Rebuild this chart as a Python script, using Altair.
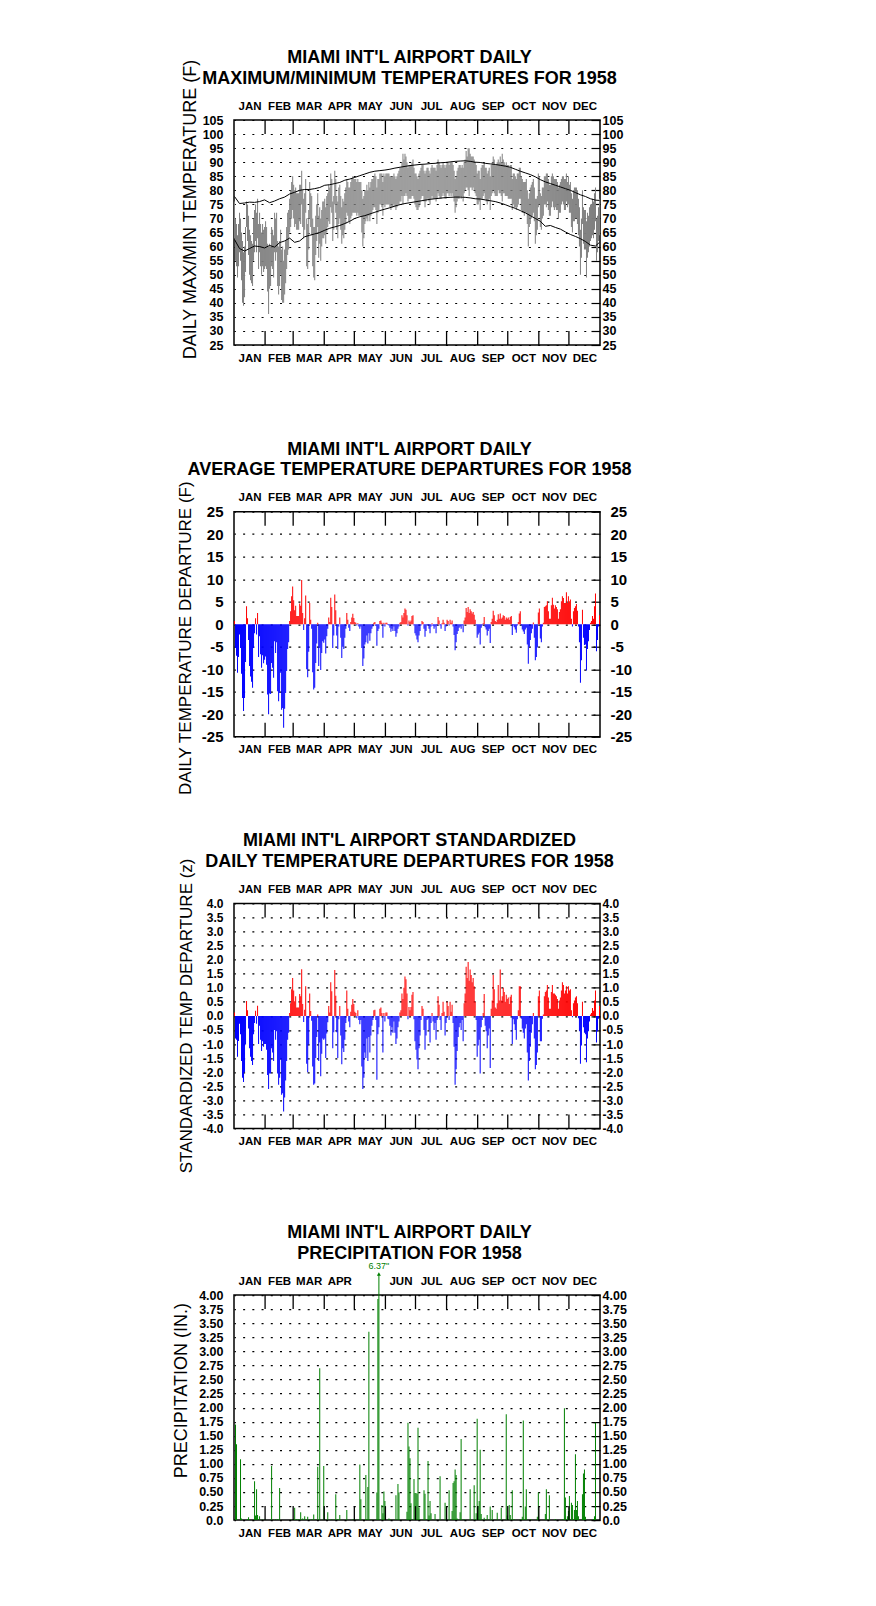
import altair as alt
import pandas as pd

FONT = "Liberation Sans"
MONTHS = ["JAN", "FEB", "MAR", "APR", "MAY", "JUN", "JUL", "AUG", "SEP", "OCT", "NOV", "DEC"]
MONTH_LEN = [31, 28, 31, 30, 31, 30, 31, 31, 30, 31, 30, 31]

TMAX = [76,70,68,64,68,72,70,65,62,58,60,67,76,75,71,66,64,62,61,70,73,75,72,77,68,72,68,65,68,66,67,
        69,67,61,60,61,60,67,66,64,72,70,72,62,60,62,66,59,60,55,59,62,67,72,73,77,80,83,85,
        82,80,81,79,79,79,82,82,87,80,77,79,84,70,68,73,83,79,78,70,67,67,71,75,79,71,74,70,73,76,76,
        77,74,78,79,82,81,86,84,76,78,87,84,78,76,81,82,78,74,77,76,79,81,84,83,81,81,83,84,85,84,
        84,84,83,84,83,83,83,80,77,78,80,80,82,80,83,81,83,84,84,85,86,85,81,84,84,86,86,86,83,86,85,
        86,86,86,86,85,85,85,85,86,85,84,85,86,87,88,88,90,93,91,93,92,90,88,89,89,89,90,91,88,86,
        86,85,84,86,87,88,89,89,87,86,87,88,88,87,86,88,89,88,88,88,87,89,91,90,89,88,89,90,89,88,89,
        90,90,89,90,90,90,89,87,84,85,87,88,89,89,88,89,88,90,91,94,92,95,95,93,92,92,92,91,90,89,86,
        87,87,84,88,89,89,90,88,88,86,87,88,85,89,90,92,91,89,89,90,91,90,92,90,93,91,90,89,90,89,
        89,88,89,89,84,86,86,85,84,86,86,88,88,85,84,83,83,83,84,80,77,79,81,82,83,84,81,77,77,78,86,
        85,79,78,81,81,85,85,86,86,84,82,82,85,86,85,84,84,84,83,81,82,83,84,85,85,84,84,86,83,85,
        82,83,79,77,80,81,81,81,80,77,74,66,70,80,74,73,73,69,72,71,74,75,75,77,76,79,81,70,71,74,77]
TMIN = [63,55,53,49,53,58,55,48,40,39,42,51,67,62,57,50,48,47,46,55,58,62,58,63,52,58,53,50,53,51,52,
        53,52,44,36,45,46,53,52,49,58,55,58,46,43,46,50,41,40,40,43,47,52,57,59,65,67,70,73,
        70,67,68,66,66,66,69,68,75,67,63,66,72,53,52,59,70,67,64,53,49,48,57,62,67,56,61,55,60,63,63,
        64,61,65,67,69,68,74,72,62,66,75,72,66,63,68,70,66,61,64,63,66,68,72,71,69,68,70,71,72,72,
        72,72,71,72,71,71,71,65,60,63,68,69,70,69,71,69,71,72,73,74,74,73,68,72,73,75,75,74,71,75,74,
        75,75,75,75,74,73,74,74,75,74,73,74,75,75,76,76,78,75,78,78,79,78,76,77,77,77,78,78,77,75,
        74,73,73,74,75,77,78,78,76,74,76,77,77,76,75,77,78,77,77,77,76,77,79,78,77,77,78,79,78,77,77,
        79,79,78,79,78,79,78,76,72,74,76,77,77,78,77,78,76,79,80,81,81,80,78,81,81,80,81,80,79,78,75,
        75,76,73,77,77,78,79,77,76,75,76,77,73,78,79,80,79,78,78,78,80,79,79,78,76,79,79,78,78,78,
        77,77,77,77,73,75,74,74,73,74,75,77,77,73,72,72,71,72,72,68,60,67,68,70,71,72,69,61,64,66,74,
        75,67,66,70,71,75,75,74,76,73,71,71,74,76,74,73,74,73,73,70,72,72,75,76,75,73,73,76,74,75,
        72,72,67,65,69,69,70,70,68,64,60,50,56,68,61,59,59,49,56,58,60,62,63,64,63,66,69,55,58,62,64]

NORM_DAYS = list(range(0, 361, 5)) + [364]
NORM_MAX = [77.8,75.3,75.5,75.8,75.7,76.0,76.6,75.6,76.2,77.0,77.6,78.7,79.3,80.0,80.3,80.3,80.6,81.0,81.8,82.0,
            82.4,82.8,83.6,84.0,84.6,85.2,85.8,86.4,86.8,87.0,87.2,87.5,87.9,88.2,88.5,88.8,89.0,89.2,89.3,89.5,
            89.6,89.8,89.9,90.1,90.3,90.4,90.5,90.3,90.0,89.9,89.6,89.4,89.2,88.9,88.6,88.2,87.5,86.8,86.2,85.6,
            84.8,83.8,83.0,82.4,81.8,81.2,80.6,80.0,79.2,78.4,77.8,77.0,76.5,76.4]
NORM_MIN = [62.5,59.3,58.4,59.3,60.2,60.0,59.5,60.4,59.8,61.4,62.0,63.0,61.5,62.0,63.5,64.0,64.5,65.0,65.8,66.5,
            67.0,67.5,68.2,69.0,70.0,70.6,71.0,71.6,72.2,72.8,73.3,73.8,74.4,74.9,75.3,75.6,75.9,76.2,76.5,76.8,
            77.0,77.2,77.4,77.5,77.6,77.6,77.5,77.3,77.0,76.9,76.6,76.3,76.0,75.5,74.9,74.2,73.6,72.8,72.0,71.0,
            70.0,69.0,67.2,67.5,66.8,66.2,65.2,64.3,63.6,62.8,61.8,60.5,60.2,61.5]

DEP = [0.7,-5.3,-7.0,-10.8,-7.3,-2.3,-5.3,-11.0,-16.4,-19.3,-16.4,-8.4,4.0,1.3,-3.5,-9.3,-11.6,-12.8,-14.1,-5.3,-2.0,1.3,-2.3,2.5,-7.3,-2.7,-6.7,-9.7,-6.9,-8.7,-7.9,
       -7.2,-9.0,-15.6,-20.0,-15.4,-15.5,-8.6,-9.7,-11.9,-3.8,-6.4,-4.0,-14.9,-17.1,-15.3,-10.8,-19.0,-18.6,-23.0,-18.8,-15.3,-10.4,-5.5,-4.0,0.7,2.9,6.2,8.4,
       5.3,3.1,4.1,1.8,1.8,1.8,4.6,4.1,9.8,2.5,-1.3,1.3,6.4,-10.0,-11.8,-6.1,4.7,1.0,-1.0,-10.7,-14.5,-14.1,-8.6,-4.3,0.3,-9.3,-5.3,-10.2,-6.4,-3.8,-4.1,
       -3.4,-6.5,-2.7,-1.0,1.5,0.5,5.9,3.8,-5.3,-2.5,6.6,3.1,-2.5,-5.5,-0.5,1.5,-3.0,-7.5,-5.0,-5.5,-3.0,-1.0,2.5,1.0,-0.8,-1.5,0.5,1.5,2.3,1.4,
       0.5,0.3,-0.3,0.2,-0.5,-1.0,-0.5,-5.3,-9.3,-7.6,-4.5,-4.0,-2.5,-4.3,-2.0,-3.7,-2.0,-1.0,-0.5,0.3,0.5,-0.4,-4.8,-1.5,-1.0,0.7,0.8,0.3,-3.0,0.3,-0.5,
       0.3,0.3,-0.2,-0.3,-0.8,-1.7,-1.0,-1.5,-0.5,-1.5,-2.8,-2.0,-1.0,-0.5,0.3,0.5,2.0,1.5,2.5,3.5,3.2,2.0,-0.3,0.8,0.5,0.8,1.8,2.0,-0.3,-2.0,
       -2.5,-3.4,-4.0,-2.5,-1.5,-0.3,0.7,0.5,-1.0,-2.8,-1.5,-0.3,-0.2,-1.0,-2.0,-0.5,0.2,-0.4,-1.0,-0.5,-2.0,-0.3,1.6,0.8,-0.3,-1.0,0.2,1.0,0.3,-1.5,-0.5,
       1.0,0.7,-0.3,1.0,0.3,0.8,-0.5,-2.4,-5.8,-4.0,-2.2,-1.5,-0.8,-0.5,-1.0,-0.3,-1.8,0.8,1.5,3.6,2.7,3.8,2.5,3.3,2.9,2.4,2.7,2.1,1.0,-0.3,-3.0,
       -2.3,-1.9,-4.5,-0.8,-0.3,0.2,1.6,-0.7,-1.2,-2.5,-1.5,-1.0,-4.2,0.5,1.2,3.0,2.0,0.7,0.5,1.0,2.2,1.2,2.4,1.2,1.5,2.0,1.8,1.0,1.5,1.2,
       1.5,1.0,1.6,1.8,-2.4,-0.3,-0.7,-1.2,-1.9,-0.3,0.5,2.4,2.9,-0.3,-1.2,-1.6,-2.2,-1.2,-0.8,-4.5,-8.8,-5.0,-3.5,-2.0,-1.0,0.4,-3.0,-8.0,-7.3,-5.2,2.6,
       3.5,-3.2,-4.0,-0.5,0.3,3.8,4.0,4.2,5.1,2.9,1.2,1.2,4.2,5.9,4.3,3.5,4.2,3.8,3.3,1.2,2.7,3.3,5.1,6.2,5.8,4.7,4.7,7.1,4.7,6.2,
       5.1,5.5,1.2,-0.5,2.9,3.6,4.0,4.5,3.0,-0.5,-4.0,-13.0,-8.0,3.2,-3.0,-4.6,-4.5,-10.3,-5.5,-3.8,-1.3,0.3,0.7,1.8,1.2,4.0,6.8,-6.0,-3.5,-0.5,2.0]

ZDEP = [0.12,-0.8,-0.85,-1.45,-0.89,-0.28,-0.65,-1.6,-2.2,-2.35,-2.0,-1.02,0.53,0.2,-0.45,-1.15,-1.45,-1.6,-1.75,-0.65,-0.25,0.18,-0.28,0.36,-1.0,-0.35,-0.85,-1.25,-0.9,-1.1,-1.0,
        -1.0,-1.2,-2.1,-2.6,-2.05,-2.05,-1.15,-1.3,-1.6,-0.5,-0.85,-0.55,-2.05,-2.45,-2.2,-1.55,-2.8,-2.75,-3.4,-2.9,-2.3,-1.6,-0.85,-0.6,0.1,0.45,0.95,1.35,
        0.9,0.52,0.7,0.3,0.3,0.3,0.78,0.7,1.66,0.42,-0.22,0.22,1.05,-1.7,-2.0,-1.02,0.8,0.17,-0.17,-1.8,-2.45,-2.4,-1.5,-0.75,0.05,-1.6,-0.95,-2.15,-1.35,-0.8,-0.85,
        -0.8,-1.5,-0.63,-0.23,0.35,0.12,1.2,0.88,-1.15,-0.58,1.63,0.72,-0.58,-1.5,-0.12,0.35,-0.7,-1.72,-1.15,-1.28,-0.85,-0.25,0.9,0.25,-0.2,-0.4,0.15,0.4,0.6,0.42,
        0.15,0.1,-0.08,0.2,-0.15,-0.3,-0.15,-1.8,-2.6,-2.2,-1.3,-1.5,-0.8,-1.6,-0.75,-1.3,-0.7,-0.35,-0.15,0.2,0.22,-0.15,-2.27,-0.65,-0.4,0.25,0.3,0.1,-1.3,0.1,-0.2,
        0.12,0.12,-0.1,-0.12,-0.35,-0.7,-0.4,-0.6,-0.2,-0.6,-1.0,-0.8,-0.4,-0.2,0.12,0.2,0.8,0.6,1.0,1.4,1.3,0.8,-0.12,0.32,0.2,0.32,0.75,0.85,-0.12,-0.9,
        -1.2,-1.55,-1.9,-1.15,-0.7,-0.15,0.35,0.25,-0.5,-1.2,-0.7,-0.15,-0.1,-0.5,-0.95,-0.25,0.1,-0.2,-0.5,-0.25,-0.85,-0.15,0.7,0.4,-0.15,-0.5,0.1,0.5,0.15,-0.7,-0.25,
        0.5,0.35,-0.15,0.5,0.15,0.4,-0.25,-1.1,-2.45,-1.9,-1.25,-0.75,-0.4,-0.25,-0.5,-0.15,-0.9,0.45,0.8,1.75,1.35,1.92,1.25,1.65,1.45,1.2,1.35,1.05,0.5,-0.15,-1.45,
        -1.05,-0.85,-2.05,-0.4,-0.15,0.1,0.78,-0.35,-0.55,-1.15,-0.7,-0.45,-1.85,0.25,0.55,1.45,0.95,0.3,0.25,0.45,1.1,0.55,1.65,0.55,0.7,1.0,0.85,0.5,0.75,0.6,
        0.65,0.42,0.68,0.75,-1.0,-0.12,-0.3,-0.5,-0.85,-0.12,0.2,1.05,1.05,-0.1,-0.45,-0.6,-0.8,-0.45,-0.3,-1.3,-2.3,-1.6,-1.1,-0.6,-0.3,0.1,-0.8,-1.9,-1.75,-1.3,0.7,
        0.9,-0.9,-0.9,-0.1,0.05,0.7,0.85,0.9,1.1,0.65,0.25,0.25,0.85,1.1,0.8,0.8,0.75,0.7,0.6,0.25,0.55,0.65,0.9,1.2,1.1,0.8,0.9,1.05,0.8,1.05,
        0.9,0.95,0.2,-0.05,0.45,0.55,0.65,0.7,0.45,-0.08,-0.55,-1.7,-1.05,0.5,-0.4,-0.6,-0.65,-1.65,-0.8,-0.55,-0.2,0.05,0.1,0.28,0.18,0.55,0.9,-0.95,-0.55,-0.1,0.35]

PRCP_DAYS = [1,2,6,7,13,14,20,21,22,23,25,28,31,37,41,43,45,56,58,60,62,64,66,68,70,73,77,79,83,85,89,93,97,101,103,105,112,118,
             122,125,126,131,132,133,134,137,142,143,144,147,148,149,150,154,156,161,163,164,172,173,174,175,176,179,180,181,182,183,184,185,
             189,190,193,194,195,196,200,205,210,214,217,218,219,220,221,222,225,226,229,235,239,241,242,243,244,245,246,249,252,255,257,262,266,
             271,272,274,275,277,279,285,287,288,290,291,295,302,303,310,311,314,320,327,329,330,332,333,334,336,337,339,340,341,342,343,347,348,349,350,358,359,360]
PRCP_VALS = [1.70,1.35,1.08,0.03,0.02,0.05,0.69,0.08,0.55,0.09,0.07,0.01,0.01,0.96,0.02,0.02,0.57,0.01,0.02,0.22,0.02,0.02,0.14,0.03,0.07,0.06,0.02,0.10,0.95,2.70,0.96,0.14,0.02,0.46,0.02,0.09,0.18,0.02,
             0.01,0.99,0.37,0.80,0.02,0.59,3.35,0.01,0.49,3.93,6.37,0.27,0.12,0.51,0.34,0.03,0.01,0.44,0.64,0.49,0.15,1.73,1.31,1.10,0.30,0.73,0.48,0.48,0.47,1.64,0.22,0.02,
             0.53,0.47,1.05,0.08,0.34,0.12,0.11,0.78,0.31,0.53,0.16,0.66,0.69,0.90,0.80,0.03,0.14,1.44,0.02,0.55,0.62,0.12,1.80,0.25,0.34,1.25,0.11,0.04,0.09,0.24,0.18,0.13,0.22,
             1.88,0.08,0.27,0.09,0.53,0.02,0.02,0.06,1.77,0.24,0.55,0.02,0.06,0.49,0.11,0.55,0.44,0.02,0.02,1.99,0.40,0.07,0.16,0.43,0.31,0.27,0.18,1.17,0.18,0.34,0.07,0.46,0.83,0.90,0.06,0.02,0.07,1.73]

GRAY, RED, BLUE, GREEN = "#7f7f7f", "#ff0000", "#0000ff", "#008000"
W, H = 366, 225
TICK_PX = 14
PANEL_STEP = 391.7

starts = [sum(MONTH_LEN[:i]) for i in range(12)]
MIDS = [s + n / 2 for s, n in zip(starts, MONTH_LEN)]
BOUNDS = starts[1:]
MONTH_EXPR = ("[" + ",".join(f"'{m}'" for m in MONTHS) + "][indexof(["
              + ",".join(repr(v) for v in MIDS) + "], datum.value)]")
XS = alt.Scale(domain=[0, 365], nice=False, zero=False)
SIGNED1 = "datum.value < 0 ? '-' + format(-datum.value, '.1f') : format(datum.value, '.1f')"
SIGNED0 = "datum.value < 0 ? '-' + format(-datum.value, 'd') : format(datum.value, 'd')"
PREC = "datum.value == 0 ? '0.0' : format(datum.value, '.2f')"


def frame(ydom, yvals, yexpr, lsize, ytitle, tsize, tx, ty, top_mids, title_lines, rpad=2, lpad=11):
    y0, y1 = ydom
    tl = TICK_PX / H * (y1 - y0)
    bdf = pd.DataFrame({"day": BOUNDS})
    bdf["b0"] = y0
    bdf["b1"] = y0 + tl
    bdf["t0"] = y1
    bdf["t1"] = y1 - tl
    ys = alt.Scale(domain=[y0, y1], nice=False, zero=False, clamp=True)
    lab = dict(labelFont=FONT, labelFontSize=lsize, labelFontWeight="bold", labelColor="black",
               labelOverlap=False, labelFlush=False)
    mlab = dict(labelFont=FONT, labelFontSize=11.5, labelFontWeight="bold", labelColor="black",
                labelOverlap=False, labelFlush=False, labelExpr=MONTH_EXPR, domain=False, ticks=False,
                tickSize=0, grid=False)
    bottom = alt.Chart(bdf).mark_rule(color="black", strokeWidth=1.3).encode(
        x=alt.X("day:Q", scale=XS, axis=alt.Axis(orient="bottom", values=MIDS, title=None,
                                                   labelPadding=7, **mlab)),
        y=alt.Y("b0:Q", scale=ys, axis=alt.Axis(
            orient="left", values=yvals, labelExpr=yexpr, domain=False, ticks=False, tickSize=0,
            labelPadding=lpad, grid=True, gridColor="black", gridWidth=1.2, gridDash=[2, 7.22],
            gridDashOffset=0.6, title=ytitle, titleFont=FONT, titleFontSize=tsize, titleFontWeight="normal",
            titleColor="black", titleX=tx, titleY=ty, titleBaseline="middle", titleAlign="center", **lab)),
        y2="b1:Q")
    top = alt.Chart(bdf).mark_rule(color="black", strokeWidth=1.3).encode(
        x=alt.X("day:Q", scale=XS, axis=alt.Axis(
            orient="top", values=top_mids, labelPadding=9, title=title_lines, titleFont=FONT,
            titleFontSize=18, titleFontWeight="bold", titleColor="black", titleLineHeight=20.5,
            titleX=W / 2 - 8, titleY=-57.5, titleAlign="center", titleBaseline="alphabetic",
            titleAngle=0, **mlab)),
        y=alt.Y("t0:Q", scale=ys, axis=alt.Axis(
            orient="right", values=yvals, labelExpr=yexpr, domain=False, ticks=True, tickSize=9,
            tickColor="black", tickWidth=1.2, offset=-9, labelPadding=rpad, grid=False, title=None, **lab)),
        y2="t1:Q")
    return bottom, top, ys


def finish(layers):
    return (alt.layer(*layers).resolve_axis(x="independent", y="independent")
            .properties(width=W, height=H))


days = list(range(365))

# Panel 1: max/min temperatures
b1, t1, ys1 = frame((25, 105), list(range(25, 106, 5)), "format(datum.value, 'd')", 12.5,
                    "DAILY MAX/MIN TEMPERATURE (F)", 18, -44, 89, MIDS,
                    ["MIAMI INT'L AIRPORT DAILY", "MAXIMUM/MINIMUM TEMPERATURES FOR 1958"])
df1 = pd.DataFrame({"day": days, "tmax": TMAX, "tmin": TMIN})
df1["day1"] = df1["day"] + 1
bars1 = alt.Chart(df1).mark_bar(color=GRAY).encode(
    x=alt.X("day:Q", scale=XS, axis=None), x2="day1:Q",
    y=alt.Y("tmin:Q", scale=ys1, axis=None), y2="tmax:Q")
dfn = pd.DataFrame({"day": NORM_DAYS, "nmax": NORM_MAX, "nmin": NORM_MIN})
dfn["xc"] = dfn["day"] + 0.5
lmax = alt.Chart(dfn).mark_line(color="black", strokeWidth=1).encode(
    x=alt.X("xc:Q", scale=XS, axis=None), y=alt.Y("nmax:Q", scale=ys1, axis=None))
lmin = alt.Chart(dfn).mark_line(color="black", strokeWidth=1).encode(
    x=alt.X("xc:Q", scale=XS, axis=None), y=alt.Y("nmin:Q", scale=ys1, axis=None))
p1 = finish([bars1, lmax, lmin, b1, t1])

# Panel 2: average departures
b2, t2, ys2 = frame((-25, 25), list(range(-25, 26, 5)), SIGNED0, 15,
                    "DAILY TEMPERATURE DEPARTURE (F)", 17, -49, 126, MIDS,
                    ["MIAMI INT'L AIRPORT DAILY", "AVERAGE TEMPERATURE DEPARTURES FOR 1958"], rpad=10)
df2 = pd.DataFrame({"day": days, "v": DEP})
df2["day1"] = df2["day"] + 1
df2["zero"] = 0
bars2 = alt.Chart(df2).mark_bar().encode(
    x=alt.X("day:Q", scale=XS, axis=None), x2="day1:Q",
    y=alt.Y("v:Q", scale=ys2, axis=None), y2="zero:Q",
    color=alt.condition("datum.v >= 0", alt.value(RED), alt.value(BLUE)))
p2 = finish([bars2, b2, t2])

# Panel 3: standardized departures
b3, t3, ys3 = frame((-4, 4), [x / 2 for x in range(-8, 9)], SIGNED1, 12,
                    "STANDARDIZED TEMP DEPARTURE (z)", 17, -47.5, 112, MIDS,
                    ["MIAMI INT'L AIRPORT STANDARDIZED", "DAILY TEMPERATURE DEPARTURES FOR 1958"])
df3 = pd.DataFrame({"day": days, "v": ZDEP})
df3["day1"] = df3["day"] + 1
df3["zero"] = 0
bars3 = alt.Chart(df3).mark_bar().encode(
    x=alt.X("day:Q", scale=XS, axis=None), x2="day1:Q",
    y=alt.Y("v:Q", scale=ys3, axis=None), y2="zero:Q",
    color=alt.condition("datum.v >= 0", alt.value(RED), alt.value(BLUE)))
p3 = finish([bars3, b3, t3])

# Panel 4: precipitation
top4 = [m for i, m in enumerate(MIDS) if MONTHS[i] != "MAY"]
b4, t4, ys4 = frame((0, 4), [x / 4 for x in range(0, 17)], PREC, 12.5,
                    "PRECIPITATION (IN.)", 18, -53, 95, top4,
                    ["MIAMI INT'L AIRPORT DAILY", "PRECIPITATION FOR 1958"])
df4 = pd.DataFrame({"day": PRCP_DAYS, "p": PRCP_VALS})
df4["day1"] = df4["day"] + 1
df4["zero"] = 0
df4["xc"] = df4["day"] + 0.5
df4["label"] = df4["p"].map(lambda v: f'{v:.2f}"')
bars4 = alt.Chart(df4).mark_bar(color=GREEN).encode(
    x=alt.X("day:Q", scale=XS, axis=None), x2="day1:Q",
    y=alt.Y("p:Q", scale=ys4, axis=None), y2="zero:Q")
big = alt.Chart(df4).transform_filter("datum.p > 4")
arrow = big.mark_rule(color=GREEN, strokeWidth=1).encode(
    x=alt.X("xc:Q", scale=XS, axis=None), y=alt.value(-21), y2=alt.value(0))
head = big.mark_point(shape="triangle-up", filled=True, color=GREEN, size=16, opacity=1).encode(
    x=alt.X("xc:Q", scale=XS, axis=None), y=alt.value(-21))
note = big.mark_text(color=GREEN, fontSize=9, font=FONT, baseline="middle").encode(
    x=alt.X("xc:Q", scale=XS, axis=None), y=alt.value(-29), text="label:N")
p4 = finish([bars4, arrow, head, note, b4, t4])

chart = (alt.vconcat(p1, p2, p3, p4, spacing=PANEL_STEP - H, bounds="flush")
         .properties(padding={"left": 163, "top": 39, "right": 10, "bottom": 10}, background="white")
         .configure_view(stroke="black", strokeWidth=1.5))

chart.save("out.html", embed_options={"renderer": "svg", "actions": False})
